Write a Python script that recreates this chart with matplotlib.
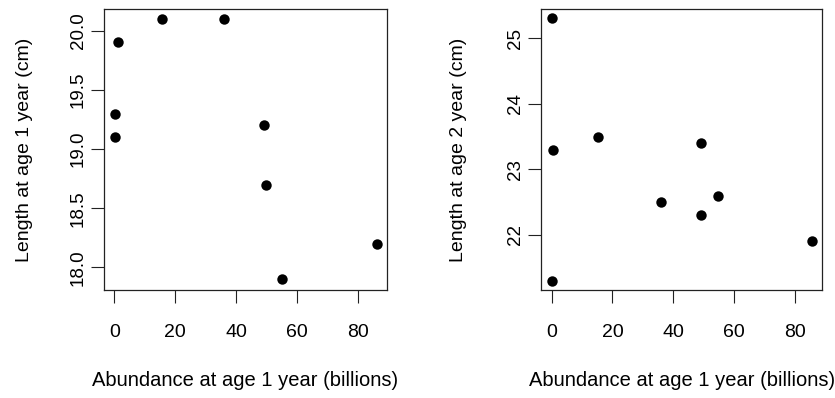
import matplotlib
matplotlib.use("Agg")
import matplotlib.pyplot as plt

plt.rcParams['font.family'] = ['Liberation Sans', 'DejaVu Sans']

# left panel: abundance at age 1 vs length at age 1
abund_a = [15.7, 36.0, 1.1, 0.2, 0.2, 49.1, 49.6, 55.1, 86.2]
len_age1 = [20.1, 20.1, 19.9, 19.3, 19.1, 19.2, 18.7, 17.9, 18.2]

# right panel: abundance at age 1 vs length at age 2
abund_b = [0.2, 0.5, 0.2, 15.3, 35.8, 49.0, 49.1, 54.8, 85.7]
len_age2 = [25.3, 23.3, 21.3, 23.5, 22.5, 23.4, 22.3, 22.6, 21.9]

x_ticks = [0, 20, 40, 60, 80]
y_ticks_a = [18.0, 18.5, 19.0, 19.5, 20.0]
y_ticks_b = [22, 23, 24, 25]

xlabel = "Abundance at age 1 year (billions)"


def r_style(ax, x, y, yticks, yfmt, ylabel, xlim, ylim, ylab_x):
    ax.plot(x, y, 'o', color='black', markersize=7.5, markeredgewidth=0)
    ax.set_xlim(*xlim)
    ax.set_ylim(*ylim)
    ax.set_xticks(x_ticks)
    ax.set_xticklabels([str(t) for t in x_ticks], fontsize=14)
    ax.set_yticks(yticks)
    ax.set_yticklabels([yfmt.format(t) for t in yticks], fontsize=13.5,
                       rotation=90, va='center')
    ax.tick_params(axis='both', direction='out', length=9.5, width=0.8,
                   color='#222222')
    ax.tick_params(axis='x', pad=15)
    ax.tick_params(axis='y', pad=3)
    for s in ax.spines.values():
        s.set_linewidth(0.9)
        s.set_color('#222222')
    ax.set_xlabel(xlabel, fontsize=14.5)
    ax.xaxis.set_label_coords(0.5, -0.29)
    ax.set_ylabel(ylabel, fontsize=14)
    ax.yaxis.set_label_coords(ylab_x, 0.5)


fig = plt.figure(figsize=(8.35, 3.98), dpi=100)
ax1 = fig.add_axes([104 / 835, 1 - 290 / 398, 283 / 835, 280.7 / 398])
ax2 = fig.add_axes([541 / 835, 1 - 290 / 398, 281.3 / 835, 280.7 / 398])

r_style(ax1, abund_a, len_age1, y_ticks_a, "{:.1f}",
        "Length at age 1 year (cm)", (-3.4, 89.4), (17.81, 20.18), -0.251)
r_style(ax2, abund_b, len_age2, y_ticks_b, "{:d}",
        "Length at age 2 year (cm)", (-3.5, 89.0), (21.16, 25.44), -0.263)

fig.savefig("out.png", dpi=100)
